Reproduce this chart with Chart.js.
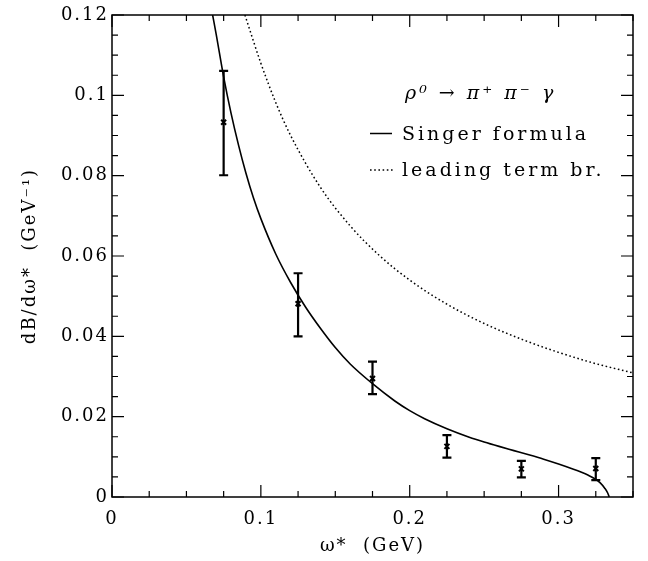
<!DOCTYPE html>
<html>
<head>
<meta charset="utf-8">
<script src="https://cdn.jsdelivr.net/npm/chart.js@4.4.1/dist/chart.umd.min.js"></script>
<style>
html, body { margin: 0; padding: 0; background: #fff; }
canvas { display: block; }
</style>
</head>
<body>
<canvas id="c" width="648" height="561"></canvas>
<script>
// Singer formula (solid curve)
const singerOmega  = [0.0676, 0.07, 0.075, 0.08, 0.085, 0.09, 0.095, 0.1, 0.11, 0.12, 0.13, 0.14, 0.15, 0.16, 0.175, 0.19, 0.2, 0.21, 0.225, 0.24, 0.25, 0.26, 0.27, 0.28, 0.29, 0.3, 0.31, 0.315, 0.32, 0.325, 0.328, 0.331, 0.333, 0.334];
const singerValues = [0.1200, 0.1152, 0.1046, 0.0955, 0.0876, 0.0806, 0.0745, 0.0693, 0.0605, 0.0534, 0.0473, 0.0420, 0.0372, 0.0331, 0.0282, 0.0239, 0.0215, 0.0195, 0.0170, 0.0149, 0.0137, 0.0126, 0.01155, 0.0105, 0.0094, 0.0082, 0.0069, 0.0062, 0.0054, 0.0044, 0.0035, 0.0022, 0.0010, 0];

// leading term bremsstrahlung (dotted curve)
const leadingOmega  = [0.0893, 0.1, 0.11, 0.12, 0.14, 0.16, 0.18, 0.2, 0.225, 0.25, 0.275, 0.3, 0.325, 0.35];
const leadingValues = [0.12, 0.108, 0.0982, 0.090, 0.0771, 0.0675, 0.060, 0.054, 0.048, 0.0432, 0.0393, 0.036, 0.0332, 0.0309];

// measured points with error bars
const pointOmega  = [0.075, 0.125, 0.175, 0.225, 0.275, 0.325];
const pointValues = [0.0933, 0.0481, 0.0295, 0.0126, 0.0070, 0.0071];
const errLow      = [0.0801, 0.0400, 0.0256, 0.0098, 0.0049, 0.0042];
const errHigh     = [0.1061, 0.0557, 0.0337, 0.0154, 0.0090, 0.0097];

const xTickLabels = ['0', '0.1', '0.2', '0.3'];
const yTickLabels = ['0', '0.02', '0.04', '0.06', '0.08', '0.1', '0.12'];

const FONT = 'DejaVu Serif';

function toXY(xs, ys) {
    return xs.map((x, i) => ({ x: x, y: ys[i] }));
}

function findLabel(list, v) {
    for (var i = 0; i < list.length; i++) {
        if (Math.abs(parseFloat(list[i]) - v) < 1e-6) return list[i];
    }
    return '';
}

const spacingPlugin = {
    id: 'spacing',
    beforeUpdate(chart) { chart.ctx.letterSpacing = '2px'; },
    beforeDraw(chart) {
        const ctx = chart.ctx;
        ctx.letterSpacing = '2px';
        ctx.save();
        ctx.fillStyle = '#fff';
        ctx.fillRect(0, 0, chart.width, chart.height);
        ctx.restore();
    }
};

// frame, inward ticks on all four sides, error bars, in-plot legend
const framePlugin = {
    id: 'frame',
    afterDatasetsDraw(chart) {
        const ctx = chart.ctx;
        const a = chart.chartArea;
        const xs = chart.scales.x, ys = chart.scales.y;

        ctx.save();
        ctx.strokeStyle = '#000';
        ctx.lineWidth = 1.5;
        ctx.strokeRect(a.left, a.top, a.right - a.left, a.bottom - a.top);

        ctx.lineWidth = 1.2;
        ctx.beginPath();
        xs.ticks.forEach(t => {
            const px = xs.getPixelForValue(t.value);
            const len = findLabel(xTickLabels, t.value) ? 12 : 6;
            ctx.moveTo(px, a.bottom); ctx.lineTo(px, a.bottom - len);
            ctx.moveTo(px, a.top); ctx.lineTo(px, a.top + len);
        });
        ys.ticks.forEach(t => {
            const py = ys.getPixelForValue(t.value);
            const len = findLabel(yTickLabels, t.value) ? 12 : 6;
            ctx.moveTo(a.left, py); ctx.lineTo(a.left + len, py);
            ctx.moveTo(a.right, py); ctx.lineTo(a.right - len, py);
        });
        ctx.stroke();

        // error bars
        ctx.lineWidth = 2.2;
        ctx.beginPath();
        for (var i = 0; i < pointOmega.length; i++) {
            const px = xs.getPixelForValue(pointOmega[i]);
            const lo = ys.getPixelForValue(errLow[i]);
            const hi = ys.getPixelForValue(errHigh[i]);
            ctx.moveTo(px, lo); ctx.lineTo(px, hi);
            ctx.moveTo(px - 4.5, lo); ctx.lineTo(px + 4.5, lo);
            ctx.moveTo(px - 4.5, hi); ctx.lineTo(px + 4.5, hi);
        }
        ctx.stroke();

        // legend
        ctx.fillStyle = '#000';
        ctx.textBaseline = 'alphabetic';
        ctx.letterSpacing = '3px';
        ctx.font = 'italic 19px "' + FONT + '"';
        ctx.fillText('ρ⁰ → π⁺ π⁻ γ', 405, 99);
        ctx.font = '19px "' + FONT + '"';
        ctx.fillText('Singer formula', 402, 140);
        ctx.fillText('leading term br.', 402, 176);

        ctx.lineWidth = 1.5;
        ctx.beginPath();
        ctx.moveTo(370, 133.5); ctx.lineTo(392, 133.5);
        ctx.stroke();
        ctx.lineWidth = 1.5;
        ctx.setLineDash([1.6, 2.6]);
        ctx.beginPath();
        ctx.moveTo(370, 170); ctx.lineTo(393, 170);
        ctx.stroke();
        ctx.restore();
    }
};

new Chart(document.getElementById('c'), {
    type: 'scatter',
    data: {
        datasets: [
            {
                label: 'Singer formula',
                data: toXY(singerOmega, singerValues),
                showLine: true,
                borderColor: '#000',
                borderWidth: 1.6,
                pointRadius: 0,
                cubicInterpolationMode: 'monotone'
            },
            {
                label: 'leading term br.',
                data: toXY(leadingOmega, leadingValues),
                showLine: true,
                borderColor: '#000',
                borderWidth: 1.5,
                borderDash: [1.6, 2.6],
                pointRadius: 0,
                cubicInterpolationMode: 'monotone'
            },
            {
                label: 'data',
                data: toXY(pointOmega, pointValues),
                showLine: false,
                pointStyle: 'crossRot',
                pointRadius: 3.5,
                borderColor: '#000',
                borderWidth: 2
            }
        ]
    },
    options: {
        responsive: false,
        animation: false,
        devicePixelRatio: 1,
        layout: { padding: { top: 15, right: 15, left: 0, bottom: 0 } },
        plugins: {
            legend: { display: false },
            tooltip: { enabled: false }
        },
        scales: {
            x: {
                type: 'linear',
                min: 0,
                max: 0.35,
                grid: { display: false, drawTicks: false },
                border: { display: false },
                ticks: {
                    stepSize: 0.025,
                    maxTicksLimit: 100,
                    autoSkip: false,
                    maxRotation: 0,
                    padding: 12,
                    color: '#000',
                    font: { family: FONT, size: 18 },
                    callback: v => findLabel(xTickLabels, v)
                },
                title: {
                    display: true,
                    text: 'ω*  (GeV)',
                    color: '#000',
                    font: { family: FONT, size: 18 },
                    padding: { top: 2 }
                },
                afterFit: s => { s.height = 64; }
            },
            y: {
                type: 'linear',
                min: 0,
                max: 0.12,
                grid: { display: false, drawTicks: false },
                border: { display: false },
                ticks: {
                    stepSize: 0.005,
                    maxTicksLimit: 100,
                    autoSkip: false,
                    padding: 3,
                    color: '#000',
                    font: { family: FONT, size: 18 },
                    callback: v => findLabel(yTickLabels, v)
                },
                title: {
                    display: true,
                    text: 'dB/dω*  (GeV⁻¹)',
                    color: '#000',
                    font: { family: FONT, size: 18 },
                    padding: { bottom: 0, top: 20 }
                },
                afterFit: s => { s.width = 112; }
            }
        }
    },
    plugins: [spacingPlugin, framePlugin]
});
</script>
</body>
</html>
